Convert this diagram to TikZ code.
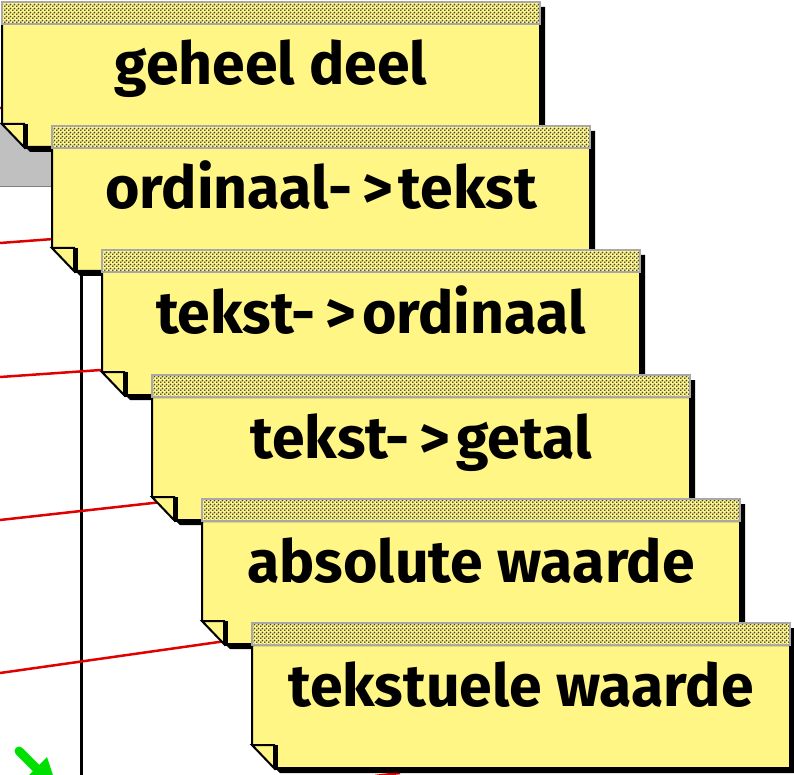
\documentclass[tikz,border=0pt]{standalone}
\usepackage{fontspec}
\setmainfont{Fira Sans}
\usetikzlibrary{patterns,patterns.meta}
\definecolor{noteyellow}{HTML}{FFF685}
\definecolor{hdrgray}{HTML}{A8A8A8}
\definecolor{bggray}{HTML}{C0C0C0}
\definecolor{linkred}{HTML}{E00000}
\definecolor{arrowgreen}{HTML}{00E000}
\tikzdeclarepattern{
  name=hexdots,
  type=uncolored,
  bounding box={(0,0) and (4pt,4pt)},
  tile size={(4pt,4pt)},
  code={
    \fill (1pt,1pt) circle (1.1pt);
    \fill (3pt,3pt) circle (1.1pt);
  }
}
\tikzset{
  cardshadow/.style={fill=black},
  cardbody/.style={fill=noteyellow, draw=black, line width=2pt, line join=miter},
  cardhead/.style={preaction={fill=noteyellow}, pattern=hexdots, pattern color=black!75, draw=hdrgray, line width=2pt},
  cardfold/.style={fill=noteyellow, draw=black, line width=2pt},
  cardtext/.style={font=\fontsize{59}{68}\selectfont\bfseries, anchor=base, inner sep=0pt},
  redlink/.style={draw=linkred, line width=2.5pt},
  axisline/.style={draw=black, line width=2.5pt}
}
\newcommand{\arrowtxt}{-\hspace{10pt}>\hspace{6pt}}
\newcommand{\notecard}[4]{%
  \begin{scope}[shift={(#2,#3)}]
    \fill[cardshadow] (5,5) -- (543,5) -- (543,150) -- (28,150) -- (5,127) -- cycle;
    \filldraw[cardbody] (0,22) -- (538,22) -- (538,145) -- (23,145) -- (0,122) -- cycle;
    \path[cardhead] (0,0) rectangle (538,22);
    \filldraw[cardfold] (0,122) -- (22,122) -- (22,145) -- cycle;
    \draw[black, line width=4pt] (24,122) -- (24,147);
    \node[cardtext] (#1) at (269,83) {#4};
  \end{scope}}
\begin{document}
\begin{tikzpicture}[x=1pt,y=-1pt]
  \useasboundingbox (0,0) rectangle (794,775);
  \clip (0,0) rectangle (794,775);
  % background
  \fill[bggray] (0,123) rectangle (60,187);
  \draw[gray, line width=1pt] (0,187) -- (60,187);
  \coordinate (v0) at (81.5,200);
  \coordinate (v1) at (81.5,776);
  \draw[axisline] (v0) -- (v1);
  \coordinate (r1a) at (0,108);   \coordinate (r1b) at (30,106);
  \coordinate (r2a) at (0,243);   \coordinate (r2b) at (80,237);
  \coordinate (r3a) at (0,377);   \coordinate (r3b) at (130,368);
  \coordinate (r4a) at (0,520);   \coordinate (r4b) at (180,500);
  \coordinate (r5a) at (0,673);   \coordinate (r5b) at (240,639);
  \coordinate (r6a) at (375,776); \coordinate (r6b) at (400,773);
  \draw[redlink] (r1a) -- (r1b);
  \draw[redlink] (r2a) -- (r2b);
  \draw[redlink] (r3a) -- (r3b);
  \draw[redlink] (r4a) -- (r4b);
  \draw[redlink] (r5a) -- (r5b);
  \draw[redlink] (r6a) -- (r6b);
  % green arrow
  \coordinate (g0) at (19,751);
  \coordinate (g1) at (38,770);
  \draw[arrowgreen, line width=9pt, line cap=round] (g0) -- (g1);
  \fill[arrowgreen] (47,757) -- (29,775) -- (56,784) -- cycle;
  % cards
  \notecard{c1}{2}{2}{geheel deel}
  \notecard{c2}{52}{126}{ordinaal\arrowtxt tekst}
  \notecard{c3}{102}{250}{tekst\arrowtxt ordinaal}
  \notecard{c4}{152}{375}{tekst\arrowtxt getal}
  \notecard{c5}{202}{499}{absolute waarde}
  \notecard{c6}{252}{623}{tekstuele waarde}
\end{tikzpicture}
\end{document}
